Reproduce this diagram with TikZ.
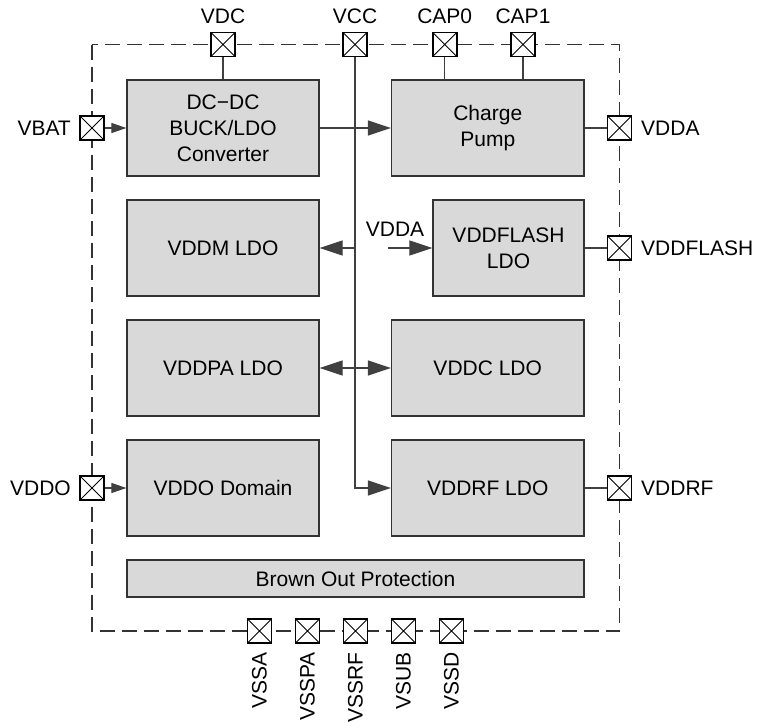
\documentclass[tikz,border=0pt]{standalone}
\usepackage{fontspec}
\setmainfont{Liberation Sans}
\usetikzlibrary{arrows.meta}
\begin{document}
\begin{tikzpicture}[x=1pt,y=-1pt,
  font=\fontsize{21}{26}\selectfont,
  blk/.style={draw=black!80, line width=1.3pt, fill=black!15, minimum width=192pt, minimum height=96pt, inner sep=0pt, align=center},
  pin/.style={draw=black, line width=1.6pt, fill=white, minimum size=24pt, inner sep=0pt,
    path picture={\draw[line width=0.8pt] (path picture bounding box.south west) -- (path picture bounding box.north east) (path picture bounding box.north west) -- (path picture bounding box.south east);}},
  wire/.style={draw=black!75, line width=1.2pt},
  bigarrow/.style={-{Triangle[length=23pt,width=15pt]}},
  smallarrow/.style={-{Triangle[length=15pt,width=10pt]}},
  lbl/.style={inner sep=0pt},
  border/.style={dash pattern=on 15pt off 7pt, line width=1.1pt, draw=black!80}
]
\useasboundingbox (0,0) rectangle (757,723);

% dashed chip border
\draw[border] (92,44.5) rectangle (619.5,631);

% blocks
\node[blk] (dcdc) at (223,128) {DC−DC\\BUCK/LDO\\Converter};
\node[blk, minimum width=192.5pt] (cp) at (487.75,128) {Charge\\Pump};
\node[blk] (vddm) at (223,248) {VDDM LDO};
\node[blk, minimum width=151pt] (flash) at (508.5,248) {VDDFLASH\\LDO};
\node[blk] (vddpa) at (223,368) {VDDPA LDO};
\node[blk, minimum width=192.5pt] (vddc) at (487.75,368) {VDDC LDO};
\node[blk] (vddo) at (223,488) {VDDO Domain};
\node[blk, minimum width=192.5pt] (vddrf) at (487.75,488) {VDDRF LDO};
\node[blk, minimum width=457pt, minimum height=37pt] (bop) at (355.5,578.5) {Brown Out Protection};

% pins
\node[pin] (vdcp) at (223,44.5) {};
\node[pin] (vccp) at (355,44.5) {};
\node[pin] (cap0p) at (444.7,44.5) {};
\node[pin] (cap1p) at (523,44.5) {};
\node[pin] (vbatp) at (92,128) {};
\node[pin] (vddop) at (92,488) {};
\node[pin] (vddap) at (619.5,128) {};
\node[pin] (flashp) at (619.5,248) {};
\node[pin] (vddrfp) at (619.5,488) {};
\node[pin] (vssa) at (259.5,631) {};
\node[pin] (vsspa) at (307.5,631) {};
\node[pin] (vssrf) at (355.5,631) {};
\node[pin] (vsub) at (403.5,631) {};
\node[pin] (vssd) at (451.5,631) {};

% pin labels
\node[lbl, anchor=base] (lvdc) at (223,23) {VDC};
\node[lbl, anchor=base] (lvcc) at (355,23) {VCC};
\node[lbl, anchor=base] (lcap0) at (444.7,23) {CAP0};
\node[lbl, anchor=base] (lcap1) at (523,23) {CAP1};
\node[lbl, anchor=east] (lvbat) at (71,128) {VBAT};
\node[lbl, anchor=east] (lvddo) at (71,488) {VDDO};
\node[lbl, anchor=west] (lvdda) at (641,128) {VDDA};
\node[lbl, anchor=west] (lflash) at (641,248) {VDDFLASH};
\node[lbl, anchor=west] (lvddrf) at (641,488) {VDDRF};
\node[lbl, rotate=90, anchor=east] (lvssa) at (259.5,652) {VSSA};
\node[lbl, rotate=90, anchor=east] (lvsspa) at (307.5,652) {VSSPA};
\node[lbl, rotate=90, anchor=east] (lvssrf) at (355.5,652) {VSSRF};
\node[lbl, rotate=90, anchor=east] (lvsub) at (403.5,652) {VSUB};
\node[lbl, rotate=90, anchor=east] (lvssd) at (451.5,652) {VSSD};
\node[lbl] (lvddain) at (395,229) {VDDA};

% connectors
\draw[wire, smallarrow] (vbatp.east) -- (dcdc.west);
\draw[wire, smallarrow] (vddop.east) -- (vddo.west);
\draw[wire, bigarrow] (dcdc.east) -- (cp.west);
\draw[wire] (vdcp.south) -- (dcdc.north);
\draw[wire] (cap0p.south) -- (cap0p.south |- cp.north);
\draw[wire] (cap1p.south) -- (cap1p.south |- cp.north);
\draw[wire] (cp.east) -- (vddap.west);
\draw[wire] (flash.east) -- (flashp.west);
\draw[wire] (vddrf.east) -- (vddrfp.west);
\draw[wire, bigarrow] (vccp.south) |- (vddrf.west);
\draw[wire, bigarrow] (vccp.south |- vddm.east) -- (vddm.east);
\draw[wire, bigarrow] (vccp.south |- vddpa.east) -- (vddpa.east);
\draw[wire, bigarrow] (vccp.south |- vddc.west) -- (vddc.west);
\coordinate (vddain) at (388,248);
\draw[wire, bigarrow] (vddain) -- (flash.west);
\end{tikzpicture}
\end{document}
